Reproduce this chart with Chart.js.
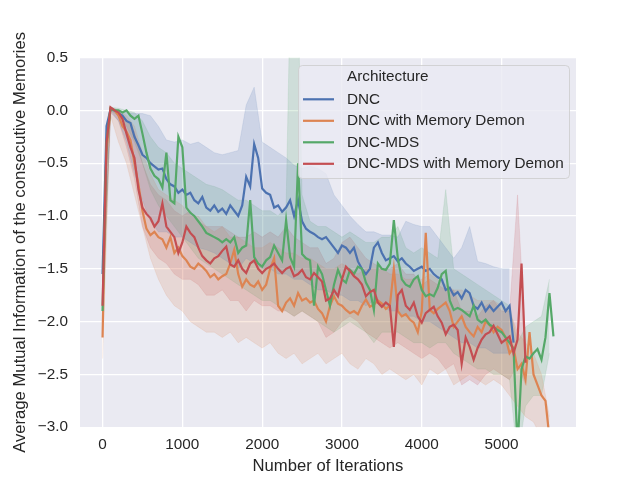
<!DOCTYPE html>
<html>
<head>
<meta charset="utf-8">
<script src="https://cdn.jsdelivr.net/npm/chart.js@4.4.0/dist/chart.umd.min.js"></script>
<style>
  html, body { margin: 0; padding: 0; background: #fff; }
</style>
</head>
<body>
<canvas id="myChart" width="640" height="480"></canvas>
<script>
// series labels
const architectures = ['DNC', 'DNC with Memory Demon', 'DNC-MDS', 'DNC-MDS with Memory Demon'];

// mean lines, one value every 50 iterations starting at 0
const dncMean = [-1.55,-0.15,0.01,0.0,-0.03,-0.05,-0.1,-0.12,-0.25,-0.33,
  -0.42,-0.45,-0.5,-0.53,-0.56,-0.55,-0.65,-0.7,-0.72,-0.78,
  -0.75,-0.8,-0.78,-0.85,-0.88,-0.82,-0.92,-0.95,-0.9,-0.96,
  -0.93,-0.98,-0.9,-0.95,-1.0,-0.9,-0.63,-0.72,-0.32,-0.45,
  -0.74,-0.78,-0.8,-0.92,-0.9,-0.96,-0.92,-0.85,-1.0,-0.85,
  -1.05,-1.12,-1.15,-1.17,-1.2,-1.22,-1.2,-1.25,-1.3,-1.35,
  -1.28,-1.3,-1.35,-1.3,-1.43,-1.5,-1.55,-1.5,-1.3,-1.25,
  -1.35,-1.42,-1.4,-1.38,-1.43,-1.4,-1.45,-1.48,-1.52,-1.5,
  -1.48,-1.52,-1.5,-1.55,-1.58,-1.6,-1.7,-1.68,-1.75,-1.72,
  -1.78,-1.7,-1.73,-1.85,-1.88,-1.82,-1.9,-1.85,-1.9,-1.86,
  -1.82,-1.9,-1.85,-2.2];
const demonMean = [-2.15,-0.4,0.02,0.0,-0.05,-0.15,-0.2,-0.28,-0.5,-0.7,
  -0.95,-1.12,-1.18,-1.15,-1.2,-1.22,-1.3,-1.2,-1.35,-1.3,
  -1.38,-1.42,-1.48,-1.5,-1.45,-1.48,-1.52,-1.58,-1.55,-1.6,
  -1.57,-1.55,-1.45,-1.32,-1.55,-1.67,-1.6,-1.65,-1.67,-1.62,
  -1.7,-1.65,-1.5,-1.4,-1.85,-1.9,-1.82,-1.78,-1.85,-1.73,
  -1.8,-1.78,-1.82,-1.8,-1.88,-1.92,-2.0,-1.85,-1.76,-1.83,
  -1.85,-1.89,-1.92,-1.9,-1.93,-1.85,-1.79,-1.86,-1.84,-1.8,
  -1.83,-1.88,-1.85,-1.5,-1.9,-1.95,-1.93,-1.98,-2.01,-2.1,
  -1.9,-1.16,-1.89,-1.92,-1.88,-1.85,-1.82,-1.9,-2.05,-2.0,
  -1.95,-2.05,-2.1,-2.14,-2.05,-2.1,-2.0,-2.03,-2.1,-2.05,
  -2.08,-2.15,-2.3,-2.25,-2.45,-2.4,-2.55,-2.1,-2.5,-2.6,
  -2.7,-2.75,-3.1];
const mdsMean = [-1.9,-0.3,0.02,0.0,0.0,-0.02,0.0,-0.05,-0.08,-0.05,
  -0.22,-0.4,-0.55,-0.62,-0.65,-0.73,-0.4,-0.85,-0.88,-0.25,
  -0.35,-0.92,-0.97,-1.0,-1.05,-1.1,-1.16,-1.18,-1.2,-1.22,
  -1.25,-1.22,-1.25,-1.2,-1.35,-1.3,-1.28,-0.85,-1.39,-1.45,
  -1.48,-1.42,-1.39,-1.28,-1.35,-1.42,-1.04,-1.39,-1.48,-0.5,
  -1.36,-1.4,-1.42,-1.85,-1.48,-1.55,-1.7,-1.85,-1.65,-1.51,
  -1.6,-1.63,-1.51,-1.55,-1.48,-1.5,-1.63,-1.7,-1.89,-1.45,
  -1.5,-1.51,-1.45,-1.04,-1.4,-1.6,-1.65,-1.67,-1.6,-1.57,
  -1.7,-1.76,-1.74,-1.76,-1.68,-1.55,-1.52,-1.8,-1.89,-1.87,
  -1.89,-1.92,-1.95,-1.85,-1.98,-2.01,-1.98,-2.03,-2.05,-2.08,
  -2.1,-2.15,-2.2,-2.26,-3.2,-2.45,-2.33,-2.35,-2.3,-2.26,
  -2.36,-2.15,-1.73,-2.14];
const mdsDemonMean = [-1.85,-0.3,0.03,0.0,-0.02,-0.08,-0.22,-0.35,-0.45,-0.75,
  -0.92,-0.98,-1.02,-1.1,-1.05,-0.88,-1.1,-1.15,-1.2,-1.35,
  -1.25,-1.1,-1.16,-1.2,-1.3,-1.38,-1.42,-1.45,-1.4,-1.38,
  -1.33,-1.29,-1.46,-1.48,-1.42,-1.5,-1.54,-1.45,-1.42,-1.5,
  -1.54,-1.5,-1.48,-1.45,-1.5,-1.54,-1.5,-1.48,-1.57,-1.55,
  -1.51,-1.58,-1.6,-1.54,-1.58,-1.62,-1.8,-1.78,-1.7,-1.76,
  -1.6,-1.48,-1.52,-1.57,-1.6,-1.65,-1.76,-1.72,-1.7,-1.82,
  -1.86,-1.82,-1.85,-2.24,-1.75,-1.7,-1.85,-1.89,-1.82,-1.95,
  -2.01,-1.92,-1.89,-1.86,-1.95,-2.01,-2.12,-2.05,-2.03,-2.08,
  -2.4,-2.15,-2.24,-2.36,-2.25,-2.17,-2.12,-2.1,-2.04,-2.12,
  -2.2,-2.17,-2.14,-2.3,-2.17,-1.45,-2.39];

// confidence bands, one value every 100 iterations starting at 0
const dncHi = [-1.3,0.03,0.0,-0.02,-0.03,-0.03,-0.05,-0.15,-0.28,-0.3,
  -0.28,-0.32,-0.3,-0.35,-0.4,-0.42,-0.4,-0.38,0.05,0.22,
  -0.3,-0.35,-0.4,-0.45,-0.52,-0.55,-0.53,-0.55,-0.6,-0.8,
  -0.9,-1.0,-1.08,-1.15,-1.15,-1.18,-1.18,-1.2,-1.05,-1.08,
  -1.1,-1.1,-1.2,-1.3,-1.4,-1.3,-1.1,-1.43,-1.45,-1.48,
  -1.5,-1.5];
const dncLo = [-1.8,-0.02,-0.1,-0.3,-0.6,-0.85,-1.05,-1.15,-1.15,-1.2,
  -1.2,-1.25,-1.3,-1.32,-1.35,-1.4,-1.45,-1.5,-1.4,-1.45,
  -1.5,-1.5,-1.55,-1.55,-1.6,-1.6,-1.65,-1.7,-1.7,-1.75,
  -1.75,-1.8,-1.8,-1.85,-1.8,-1.85,-1.9,-1.9,-1.95,-1.95,
  -2.0,-2.0,-2.05,-2.1,-2.15,-2.2,-2.2,-2.25,-2.25,-2.3,
  -2.3,-2.3];
const demonHi = [-1.95,0.03,0.0,-0.05,-0.15,-0.4,-0.6,-0.75,-0.8,-0.85,
  -0.9,-1.0,-1.0,-1.1,-1.15,-1.1,-1.2,-1.2,-1.25,-1.3,
  -1.3,-1.25,-1.3,-1.35,-1.35,-1.4,-1.4,-1.45,-1.5,-1.5,
  -1.45,-1.5,-1.55,-1.5,-1.5,-1.5,-1.55,-1.55,-1.6,-1.6,
  -1.6,-1.55,-1.6,-1.65,-1.7,-1.7,-1.75,-1.8,-1.8,-1.8,
  -1.85,-1.9,-2.1,-2.2,-2.3,-2.5,-2.9];
const demonLo = [-2.35,-0.05,-0.3,-0.5,-0.8,-1.1,-1.4,-1.6,-1.75,-1.85,
  -1.9,-2.0,-2.05,-2.1,-2.1,-2.15,-2.1,-2.2,-2.15,-2.2,
  -2.25,-2.2,-2.3,-2.35,-2.3,-2.4,-2.35,-2.3,-2.4,-2.35,
  -2.3,-2.4,-2.45,-2.35,-2.4,-2.5,-2.45,-2.5,-2.55,-2.5,
  -2.6,-2.45,-2.5,-2.45,-2.6,-2.55,-2.5,-2.55,-2.6,-2.55,
  -2.6,-2.7,-2.8,-2.9,-2.95,-3.1,-3.3];
const mdsHi = [-1.75,0.03,0.02,0.0,-0.02,-0.1,-0.25,-0.35,-0.4,-0.5,
  -0.55,-0.6,-0.65,-0.7,-0.72,-0.75,-0.8,-0.85,-0.85,-0.9,
  -0.95,-0.95,-1.0,-0.9,3.0,-0.8,-1.05,-1.1,-1.1,-1.15,
  -1.2,-1.15,-1.2,-1.25,-1.25,-1.2,-1.2,-1.1,-1.3,-1.35,
  -1.3,-1.35,-1.4,-0.75,-1.5,-1.55,-1.6,-1.65,-1.7,-1.75,
  -1.8,-1.85,-2.2,-2.05,-2.0,-1.95,-1.6];
const mdsLo = [-2.0,0.0,-0.05,-0.15,-0.3,-0.5,-0.75,-0.9,-1.0,-1.1,
  -1.2,-1.3,-1.4,-1.45,-1.5,-1.55,-1.6,-1.65,-1.7,-1.75,
  -1.8,-1.8,-1.85,-1.9,-1.95,-1.9,-1.95,-2.0,-2.05,-2.1,
  -2.05,-2.0,-2.05,-2.1,-2.2,-2.1,-2.1,-2.1,-2.15,-2.2,
  -2.2,-2.25,-2.2,-2.2,-2.3,-2.35,-2.4,-2.45,-2.45,-2.5,
  -2.5,-2.55,-3.3,-2.8,-2.7,-2.7,-2.3];
const mdsDemonHi = [-1.7,0.03,0.0,-0.1,-0.2,-0.5,-0.7,-0.8,-0.85,-0.95,
  -1.0,-0.95,-1.05,-1.1,-1.1,-1.1,-1.15,-1.2,-1.2,-1.15,
  -1.2,-1.15,-1.2,-1.1,-1.2,-1.25,-1.3,-1.3,-1.45,-1.4,
  -1.25,-1.2,-1.3,-1.4,-1.45,-1.5,-1.5,-1.45,-1.55,-1.55,
  -1.65,-1.6,-1.65,-1.7,-1.7,-1.9,-1.9,-1.95,-1.85,-1.8,
  -1.9,-1.9,-0.8,-2.2];
const mdsDemonLo = [-2.0,0.0,-0.1,-0.35,-0.65,-1.1,-1.3,-1.4,-1.45,-1.55,
  -1.6,-1.6,-1.65,-1.75,-1.75,-1.7,-1.8,-1.8,-1.9,-1.8,
  -1.85,-1.85,-1.9,-1.9,-1.95,-1.9,-1.95,-2.0,-2.15,-2.1,
  -2.0,-1.95,-2.0,-2.1,-2.15,-2.2,-2.25,-2.2,-2.25,-2.3,
  -2.35,-2.3,-2.35,-2.45,-2.4,-2.6,-2.55,-2.6,-2.5,-2.45,
  -2.5,-2.55,-2.4,-2.6];

// axis ticks
const xTicks = [0, 1000, 2000, 3000, 4000, 5000];
const yTicks = [-3.0, -2.5, -2.0, -1.5, -1.0, -0.5, 0.0, 0.5];

const MEAN_STEP = 50;
const BAND_STEP = 100;
const colors = [[76,114,176], [221,132,82], [85,168,104], [196,78,82]];
const means = [dncMean, demonMean, mdsMean, mdsDemonMean];
const his = [dncHi, demonHi, mdsHi, mdsDemonHi];
const los = [dncLo, demonLo, mdsLo, mdsDemonLo];

const FONT = "'Liberation Sans', Arial, sans-serif";
const TEXT = '#262626';

function rgba(c, a) { return 'rgba(' + c[0] + ',' + c[1] + ',' + c[2] + ',' + a + ')'; }
function toPoints(arr, step) { return arr.map((v, i) => ({ x: i * step, y: v })); }

const datasets = [];
architectures.forEach((name, k) => {
  datasets.push({
    label: name + ' hi', data: toPoints(his[k], BAND_STEP),
    borderColor: rgba(colors[k], 0.12), borderWidth: 1, fill: false, order: 10
  });
  datasets.push({
    label: name + ' lo', data: toPoints(los[k], BAND_STEP),
    borderColor: rgba(colors[k], 0.12), borderWidth: 1,
    backgroundColor: rgba(colors[k], 0.18), fill: '-1', order: 10
  });
  datasets.push({
    label: name, data: toPoints(means[k], MEAN_STEP),
    borderColor: rgba(colors[k], 1), borderWidth: 2.2, fill: false, order: 5 - k
  });
});

// axes background
const axesBg = {
  id: 'axesBg',
  beforeDraw(chart) {
    const a = chart.chartArea, ctx = chart.ctx;
    ctx.save();
    ctx.fillStyle = '#eaeaf2';
    ctx.fillRect(a.left, a.top, a.right - a.left, a.bottom - a.top);
    ctx.restore();
  }
};

// legend drawn inside the axes like seaborn does
const legendBox = {
  id: 'legendBox',
  afterDraw(chart) {
    const ctx = chart.ctx;
    const x0 = 298, y0 = 65, w = 271, h = 113;
    ctx.save();
    ctx.beginPath();
    if (ctx.roundRect) ctx.roundRect(x0 + 0.5, y0 + 0.5, w, h, 4);
    else ctx.rect(x0 + 0.5, y0 + 0.5, w, h);
    ctx.fillStyle = 'rgba(234,234,242,0.8)';
    ctx.fill();
    ctx.strokeStyle = 'rgba(204,204,204,0.8)';
    ctx.lineWidth = 1;
    ctx.stroke();

    ctx.font = '15.3px ' + FONT;
    ctx.fillStyle = TEXT;
    ctx.textBaseline = 'middle';
    ctx.textAlign = 'left';
    ctx.fillText('Architecture', 347, 77);
    architectures.forEach((name, k) => {
      const y = 99.3 + k * 21.5;
      ctx.strokeStyle = rgba(colors[k], 1);
      ctx.lineWidth = 2.2;
      ctx.beginPath();
      ctx.moveTo(303, y);
      ctx.lineTo(334, y);
      ctx.stroke();
      ctx.fillText(name, 347, y);
    });
    ctx.restore();
  }
};

const config = {
  type: 'line',
  data: { datasets: datasets },
  options: {
    responsive: false,
    animation: false,
    layout: { padding: { left: 0, right: 64, top: 57.6, bottom: 0 } },
    elements: { point: { radius: 0 }, line: { tension: 0 } },
    plugins: {
      legend: { display: false },
      tooltip: { enabled: false },
      filler: { propagate: false }
    },
    scales: {
      x: {
        type: 'linear',
        min: -282.5,
        max: 5932.5,
        afterBuildTicks: s => { s.ticks = xTicks.map(v => ({ value: v })); },
        afterFit: s => { s.height = 52.8; },
        grid: { color: '#ffffff', lineWidth: 1.3, drawTicks: false },
        border: { display: false },
        ticks: {
          color: TEXT, padding: 8,
          font: { family: FONT, size: 15.3 },
          callback: v => String(v)
        },
        title: {
          display: true, text: 'Number of Iterations', color: TEXT,
          font: { family: FONT, size: 16.67 }, padding: { top: 0, bottom: 4 }
        }
      },
      y: {
        min: -3,
        max: 0.5,
        afterBuildTicks: s => { s.ticks = yTicks.map(v => ({ value: v })); },
        afterFit: s => { s.width = 80; },
        grid: { color: '#ffffff', lineWidth: 1.3, drawTicks: false },
        border: { display: false },
        ticks: {
          color: TEXT, padding: 12,
          font: { family: FONT, size: 15.3 },
          callback: v => Number(v).toFixed(1).replace('-', '\u2212')
        },
        title: {
          display: true, text: 'Average Mutual Information of the consecutive Memories', color: TEXT,
          font: { family: FONT, size: 16.67 }, padding: { top: 10, bottom: 0 }
        }
      }
    }
  },
  plugins: [axesBg, legendBox]
};

const ctx = document.getElementById('myChart').getContext('2d');
const myChart = new Chart(ctx, config);
</script>
</body>
</html>
